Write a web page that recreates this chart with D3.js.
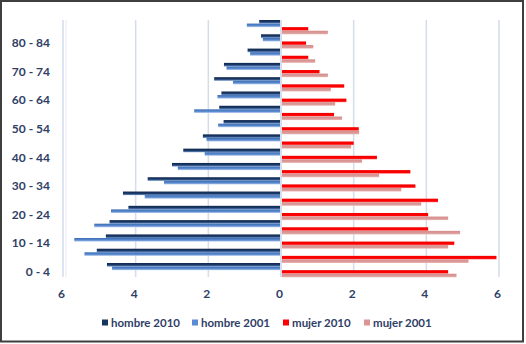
<!DOCTYPE html>
<html><head><meta charset="utf-8">
<script src="https://cdn.jsdelivr.net/npm/d3@7"></script>
<style>
html,body{margin:0;padding:0;background:#fff;}
svg{display:block;}
text{font-family:Lato,"Open Sans",sans-serif;font-weight:bold;fill:#2F4066;}
</style></head>
<body>
<script>
// Age groups, bottom (0 - 4) to top (85 +)
const categories = ["0 - 4","5 - 9","10 - 14","15 - 19","20 - 24","25 - 29","30 - 34","35 - 39","40 - 44","45 - 49","50 - 54","55 - 59","60 - 64","65 - 69","70 - 74","75 - 79","80 - 84","85 +"];
const hombre2010 = [4.79,5.07,4.82,4.72,4.20,4.35,3.67,3.00,2.69,2.15,1.58,1.70,1.64,1.84,1.57,0.92,0.55,0.60];
const hombre2001 = [4.65,5.41,5.69,5.14,4.68,3.75,3.22,2.84,2.10,2.05,1.73,2.39,1.75,1.32,1.50,0.85,0.50,0.94];
const mujer2010  = [4.60,5.93,4.77,4.05,4.05,4.32,3.70,3.56,2.64,2.00,2.14,1.46,1.80,1.74,1.06,0.75,0.69,0.75];
const mujer2001  = [4.83,5.16,4.60,4.93,4.60,3.86,3.31,2.70,2.23,1.93,2.15,1.68,1.49,1.37,1.29,0.94,0.89,1.29];
const seriesNames = ["hombre 2010","hombre 2001","mujer 2010","mujer 2001"];
const xTicks = [-6,-4,-2,0,2,4,6];

const W = 526, H = 344;
const svg = d3.select("body").append("svg").attr("width", W).attr("height", H);
svg.append("rect").attr("width", W).attr("height", H).attr("fill", "#fff");
svg.append("rect").attr("x",1).attr("y",1).attr("width",522).attr("height",340.5)
  .attr("fill","none").attr("stroke","#3f3f3f").attr("stroke-width",2);

const defs = svg.append("defs");
const grads = [
  ["g0", [["0%","#10284d"],["55%","#1b3a68"],["100%","#6f94cc"]]],
  ["g1", [["0%","#3d6db3"],["60%","#5a8bd1"],["100%","#b3c9ea"]]],
  ["g2", [["0%","#f20000"],["70%","#ff0000"],["100%","#ff7070"]]],
  ["g3", [["0%","#d48e8c"],["70%","#dc9c9a"],["100%","#ecbdbc"]]]
];
grads.forEach(([id, stops]) => {
  const g = defs.append("linearGradient").attr("id", id).attr("x1",0).attr("y1",0).attr("x2",0).attr("y2",1);
  stops.forEach(([o,c]) => g.append("stop").attr("offset",o).attr("stop-color",c));
});
const legendColors = ["#17365d","#5b8bd1","#ff0000","#d99694"];

const x = d3.scaleLinear().domain([-6, 6]).range([63, 499]);
const y = d3.scaleBand().domain(categories.slice().reverse()).range([20, 277.3]).padding(0);
const sub = d3.scaleBand().domain(seriesNames).range([0, y.bandwidth()]).padding(0);

// gridlines
svg.append("g").selectAll("line").data(xTicks).join("line")
  .attr("x1", d => x(d)).attr("x2", d => x(d))
  .attr("y1", 20).attr("y2", 277)
  .attr("stroke", d => d === 0 ? "#c9d3e4" : "#d5ddeb").attr("stroke-width", 1.5);
svg.append("line").attr("x1", x(-6)+3).attr("x2", x(-6)+3).attr("y1",20).attr("y2",277)
  .attr("stroke","#e4e9f2").attr("stroke-width",1);

const values = [hombre2010, hombre2001, mujer2010, mujer2001];
values.forEach((arr, si) => {
  const left = si < 2;
  svg.append("g").selectAll("rect").data(arr).join("rect")
    .attr("x", d => left ? x(-d) : x(0) + 1)
    .attr("width", d => left ? x(0) - 1 - x(-d) : x(d) - x(0) - 1)
    .attr("y", (d, i) => y(categories[i]) + sub(seriesNames[si]))
    .attr("height", sub.bandwidth())
    .attr("fill", `url(#g${si})`);
});

// y axis labels (every other)
const yAxis = d3.axisLeft(y).tickValues(categories.filter((c, i) => i % 2 === 0)).tickSize(0).tickPadding(0);
const gy = svg.append("g").attr("transform", "translate(50,2)").call(yAxis);
gy.select(".domain").remove();
gy.selectAll("text").attr("font-size", 12).style("font-family", "Lato").style("font-weight","bold").attr("fill","#2F4066");

// x axis labels
const xAxis = d3.axisBottom(x).tickValues(xTicks).tickFormat(d => Math.abs(d)).tickSize(0).tickPadding(0);
const gx = svg.append("g").attr("transform", "translate(-2,289)").call(xAxis);
gx.select(".domain").remove();
gx.selectAll("text").attr("font-size", 12).style("font-family", "Lato").style("font-weight","bold").attr("fill","#2F4066");

// legend
const legendX = [102, 192, 283, 364];
const lg = svg.append("g");
seriesNames.forEach((n, i) => {
  lg.append("rect").attr("x", legendX[i]).attr("y", 319.5).attr("width", 6).attr("height", 6).attr("fill", legendColors[i]);
  lg.append("text").attr("x", legendX[i] + 9).attr("y", 323).attr("dy", "0.35em")
    .attr("font-size", 11.5).text(n);
});
</script>
</body></html>
